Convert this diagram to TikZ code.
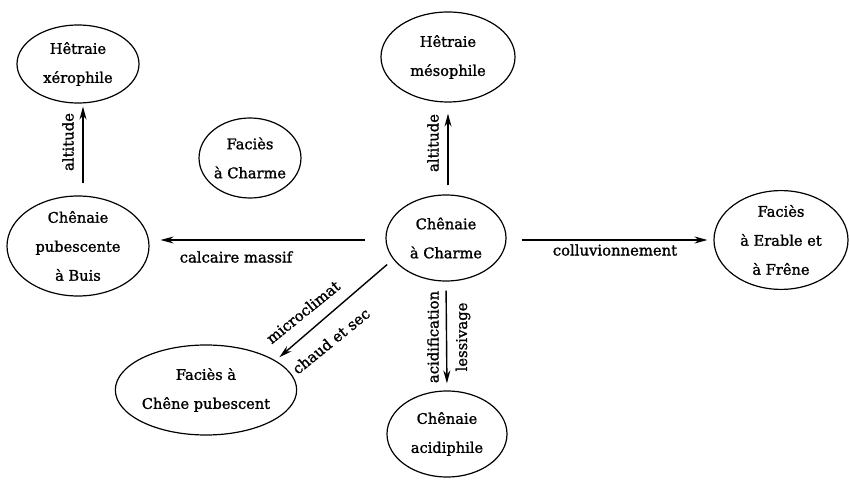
\documentclass[tikz,border=0pt]{standalone}
\usepackage{fontspec}
\setmainfont{DejaVu Serif}[FakeBold=1.3]
\usetikzlibrary{shapes.geometric,arrows.meta}
\begin{document}
\begin{tikzpicture}[x=1pt,y=-1pt,
  eco/.style={ellipse,draw,line width=1.2pt,align=center,inner sep=0pt,
    font=\fontsize{14.6}{29}\selectfont},
  arr/.style={line width=1.4pt,-{Stealth[length=13pt,width=7pt]}},
  lab/.style={font=\fontsize{14.8}{16}\selectfont,inner sep=1pt}]
\useasboundingbox (0,0) rectangle (849,481);
\node[eco,minimum width=122pt,minimum height=78pt] (hx) at (78,64) {Hêtraie\\xérophile};
\node[eco,minimum width=142pt,minimum height=100pt] (cp) at (78,246) {Chênaie\\pubescente\\à Buis};
\node[eco,minimum width=100pt,minimum height=80pt] (fc) at (250,158) {Faciès\\à Charme};
\node[eco,minimum width=134pt,minimum height=90pt] (hm) at (448,57) {Hêtraie\\mésophile};
\node[eco,minimum width=120pt,minimum height=86pt] (cc) at (446,238) {Chênaie\\à Charme};
\node[eco,minimum width=134pt,minimum height=96pt] (fe) at (781,240) {Faciès\\à Erable et\\à Frêne};
\node[eco,minimum width=140pt,minimum height=90pt] (fp) at (206,390) {Faciès à\\Chêne pubescent};
\node[eco,minimum width=120pt,minimum height=86pt] (ca) at (447,434) {Chênaie\\acidiphile};
% connectors
\draw[arr,shorten <=12pt,shorten >=3pt] (cp.north -| 83,0) -- (hx.south -| 83,0);
\draw[arr,shorten <=9pt,shorten >=11pt] (cc.north -| 448,0) -- (hm.south -| 448,0);
\draw[arr,shorten <=20pt,shorten >=11pt] ([yshift=-2pt]cc.west) -- ([yshift=-2pt]cc.west -| cp.east);
\draw[arr,shorten <=15pt,shorten >=6pt] ([yshift=-2pt]cc.east) -- ([yshift=-2pt]cc.east -| fe.west);
\draw[arr,shorten <=9pt,shorten >=7pt] (cc.south) -- (ca.north);
\draw[arr,shorten <=8pt,shorten >=5pt] (cc.202) -- (fp.23);
% labels
\node[lab,rotate=90] at (68,142) {altitude};
\node[lab,rotate=90] at (433,143) {altitude};
\node[lab] at (236,257) {calcaire massif};
\node[lab] at (615,250) {colluvionnement};
\node[lab,rotate=90] at (433,337) {acidification};
\node[lab,rotate=90] at (463,337) {lessivage};
\node[lab,rotate=39] at (303,312) {microclimat};
\node[lab,rotate=39] at (331,341) {chaud et sec};
\end{tikzpicture}
\end{document}
